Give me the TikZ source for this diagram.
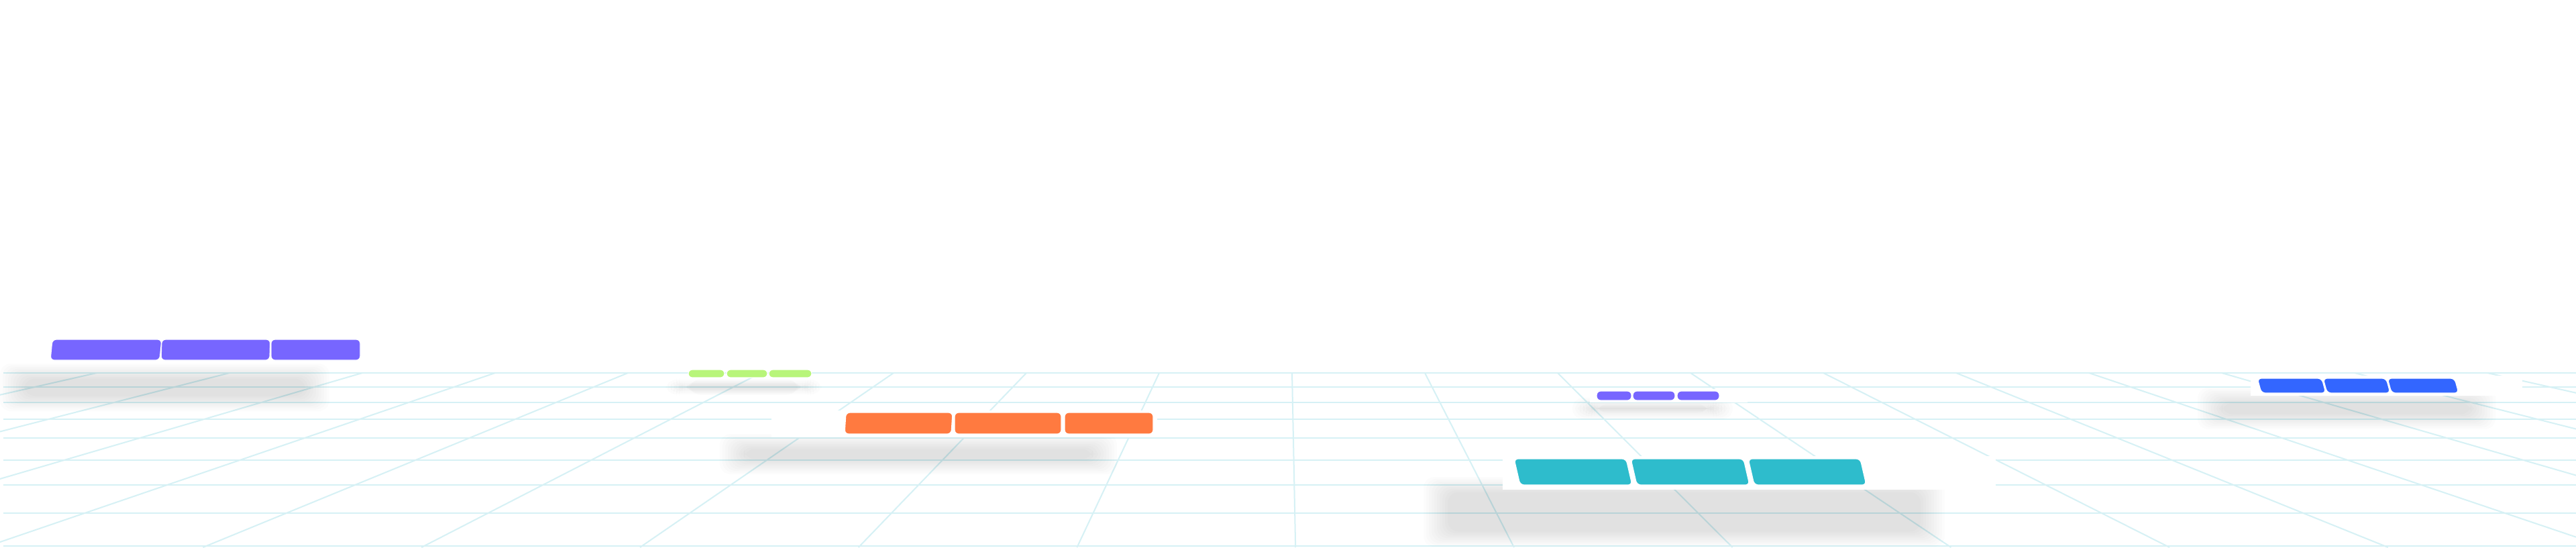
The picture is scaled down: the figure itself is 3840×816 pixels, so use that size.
\documentclass[tikz,border=0pt]{standalone}
\usetikzlibrary{calc}
\definecolor{gridc}{HTML}{D6F1F5}
\definecolor{cpurple}{HTML}{7766FF}
\definecolor{cgreen}{HTML}{B8F57A}
\definecolor{corange}{HTML}{FF7A40}
\definecolor{cblue}{HTML}{3366FF}
\definecolor{cteal}{HTML}{2EBCCC}
\tikzset{gridline/.style={draw=gridc,line width=0.5pt},
  tab/.style={rounded corners=1.5pt,draw=white,line width=0.3pt}}
\newcommand{\softshadow}[4]{%
  \foreach \i in {0,...,9}{%
    \fill[black,opacity=0.013,rounded corners=4pt]
      ({#1+\i*4},{#2+\i*2.5}) rectangle ({#3-\i*4},{#4-\i*2.5});}}
\newcommand{\tabpiece}[6]{% x1 x2 ytop ybot slant color
  \fill[tab,fill=#6] ({#1+#5},#3) -- ({#2+#5},#3) -- (#2,#4) -- (#1,#4) -- cycle;}
\begin{document}
\begin{tikzpicture}[x=0.25pt,y=-0.25pt]
\useasboundingbox (0,0) rectangle (3840,816);
\fill[white] (0,0) rectangle (3840,816);
\begin{scope}
\clip (0,0) rectangle (3840,816);
\foreach \yy in {556,577,600,625,653,686,723,765,814}{
  \draw[gridline] (5,\yy) -- (3840,\yy);}
\foreach \k in {-12,...,12}{
  \pgfmathsetmacro{\xt}{1926+\k*198}
  \pgfmathsetmacro{\xb}{1918+(\xt-1918)*1.645}
  \draw[gridline] (\xt,556) -- (\xb,816);}
\end{scope}
% shadows
\softshadow{0}{542}{491}{613}
\softshadow{992}{566}{1225}{588}
\softshadow{1073}{647}{1665}{707}
\softshadow{2344}{593}{2583}{625}
\softshadow{3276}{578}{3720}{640}
\softshadow{2122}{711}{2899}{815}
% white patches under tabs
\fill[white] (1150,612) rectangle (1725,652);
\fill[white] (2240,680) rectangle (2975,730);
\fill[white] (3355,560) rectangle (3760,590);
\fill[white] (2370,580) rectangle (2605,600);
% tabs
\tabpiece{75}{238}{506}{537}{3}{cpurple}
\tabpiece{240}{402}{506}{537}{1}{cpurple}
\tabpiece{404}{537}{506}{537}{0}{cpurple}
\tabpiece{1026}{1080}{551}{563}{0}{cgreen}
\tabpiece{1083}{1144}{551}{563}{0}{cgreen}
\tabpiece{1146}{1210}{551}{563}{0}{cgreen}
\tabpiece{1259}{1418}{615}{647}{2}{corange}
\tabpiece{1423}{1582}{615}{647}{0}{corange}
\tabpiece{1587}{1719}{615}{647}{0}{corange}
\tabpiece{2380}{2432}{583}{597}{0}{cpurple}
\tabpiece{2434}{2497}{583}{597}{0}{cpurple}
\tabpiece{2500}{2563}{583}{597}{0}{cpurple}
\tabpiece{3371}{3467}{564}{586}{-6}{cblue}
\tabpiece{3469}{3563}{564}{586}{-6}{cblue}
\tabpiece{3565}{3665}{564}{586}{-6}{cblue}
\tabpiece{2266}{2433}{684}{723}{-9}{cteal}
\tabpiece{2440}{2608}{684}{723}{-9}{cteal}
\tabpiece{2615}{2782}{684}{723}{-9}{cteal}
\end{tikzpicture}
\end{document}
